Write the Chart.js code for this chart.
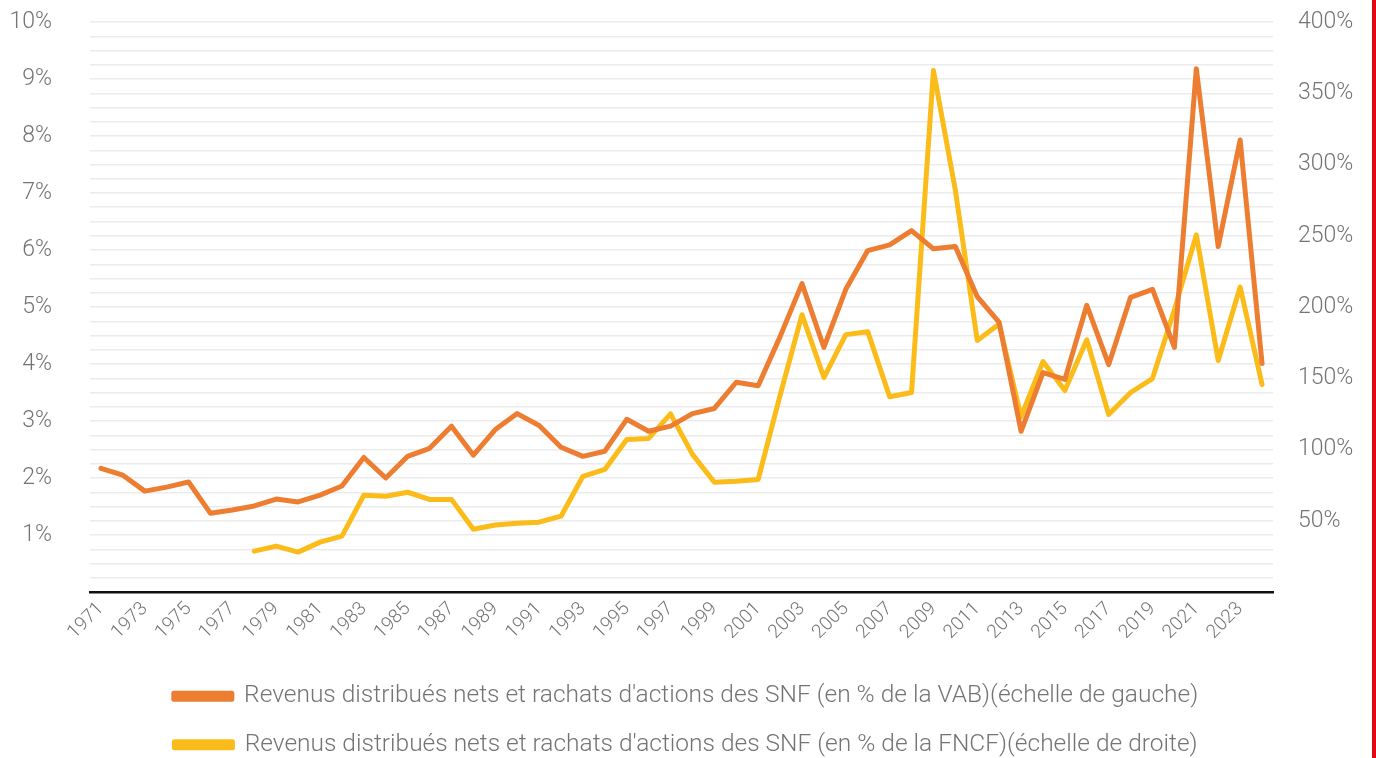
<!DOCTYPE html>
<html>
<head>
<meta charset="utf-8">
<script src="https://cdn.jsdelivr.net/npm/chart.js@4.4.1/dist/chart.umd.min.js"></script>
<style>
  body { margin: 0; background: #fff; }
  #wrap { position: relative; width: 1372px; height: 758px; }
  #redbar { position: absolute; left: 1372px; top: 0; width: 4px; height: 758px; background: #e30613; }
</style>
</head>
<body>
<div id="wrap"><canvas id="chart"></canvas></div>
<div id="redbar"></div>
<script>
// years 1971 -> 2024
const years = [];
for (let y = 1971; y <= 2024; y++) years.push(String(y));

// % of VAB (left scale)
const vabShare = [
  2.17, 2.05, 1.77, 1.84, 1.93, 1.38, 1.44, 1.51, 1.63, 1.58,
  1.70, 1.86, 2.36, 2.00, 2.38, 2.52, 2.91, 2.40, 2.85, 3.13,
  2.92, 2.54, 2.38, 2.47, 3.03, 2.82, 2.91, 3.13, 3.22, 3.68,
  3.62, 4.48, 5.41, 4.29, 5.31, 5.99, 6.09, 6.34, 6.02, 6.06,
  5.18, 4.73, 2.82, 3.85, 3.73, 5.03, 3.99, 5.17, 5.31, 4.29,
  9.18, 6.06, 7.93, 4.01
];

// % of FNCF (right scale), starts in 1978
const fncfShare = [
  null, null, null, null, null, null, null, 28.7, 32.2, 28.0,
  35.0, 39.2, 67.9, 67.2, 70.0, 65.0, 65.0, 44.0, 47.0, 48.3,
  49.0, 53.2, 81.2, 86.0, 107.0, 107.8, 125.0, 96.6, 77.0, 77.7,
  79.0, 138.0, 194.6, 150.5, 180.6, 182.7, 137.0, 140.0, 366.0, 282.0,
  176.5, 188.0, 123.0, 161.7, 141.4, 177.0, 124.6, 140.0, 149.8, 198.0,
  250.6, 162.4, 214.0, 145.6
];

const leftTicks = [1, 2, 3, 4, 5, 6, 7, 8, 9, 10];
const rightTicks = [50, 100, 150, 200, 250, 300, 350, 400];

const seriesLabels = [
  "Revenus distribués nets et rachats d'actions des SNF (en % de la VAB)(échelle de gauche)",
  "Revenus distribués nets et rachats d'actions des SNF (en % de la FNCF)(échelle de droite)"
];

const fontFamily = "Roboto, 'DejaVu Sans', sans-serif";
const textColor = '#747474';

// fixed axis sizes so the plot lands where the original sits
function fixSize(w, h) {
  return (scale) => {
    if (w) scale.width = w;
    if (h) scale.height = h;
    scale.paddingTop = 0;
    scale.paddingBottom = 0;
  };
}

const ctx = document.getElementById('chart').getContext('2d');

const chart = new Chart(ctx, {
  type: 'line',
  data: {
    labels: years,
    datasets: [
      {
        label: seriesLabels[0],
        data: vabShare,
        yAxisID: 'y',
        borderColor: '#ec7d31',
        backgroundColor: '#ec7d31',
        borderWidth: 5,
        pointRadius: 0,
        tension: 0,
        borderJoinStyle: 'round',
        borderCapStyle: 'round'
      },
      {
        label: seriesLabels[1],
        data: fncfShare,
        yAxisID: 'y1',
        borderColor: '#fbbc1a',
        backgroundColor: '#fbbc1a',
        borderWidth: 5,
        pointRadius: 0,
        tension: 0,
        borderJoinStyle: 'round',
        borderCapStyle: 'round'
      }
    ]
  },
  options: {
    responsive: true,
    maintainAspectRatio: false,
    animation: false,
    layout: {
      padding: { top: 22, left: 0, right: 0, bottom: -9 }
    },
    plugins: {
      tooltip: { enabled: false },
      legend: {
        position: 'bottom',
        labels: {
          boxWidth: 58,
          boxHeight: 6,
          padding: 24,
          color: textColor,
          font: { family: fontFamily, size: 24.5, weight: '300' }
        }
      }
    },
    scales: {
      x: {
        offset: true,
        grid: { display: false, drawTicks: false },
        border: { display: true, color: '#111', width: 2.5 },
        ticks: {
          autoSkip: false,
          maxRotation: 45,
          minRotation: 45,
          padding: 6,
          color: textColor,
          font: { family: fontFamily, size: 19, weight: '300' },
          callback: function (value, index) {
            return index % 2 === 0 ? this.getLabelForValue(value) : '';
          }
        },
        afterFit: fixSize(0, 68)
      },
      y: {
        position: 'left',
        min: 0,
        max: 10,
        grid: { color: '#ebebeb', lineWidth: 1.5, drawTicks: false },
        border: { display: false },
        ticks: {
          stepSize: 0.25,
          autoSkip: false,
          padding: 38,
          color: textColor,
          font: { family: fontFamily, size: 23, weight: '300' },
          callback: (v) => leftTicks.includes(v) ? v + '%' : ''
        },
        afterFit: fixSize(90, 0)
      },
      y1: {
        position: 'right',
        min: 0,
        max: 400,
        grid: { drawOnChartArea: false, drawTicks: false },
        border: { display: false },
        ticks: {
          stepSize: 50,
          autoSkip: false,
          padding: 25,
          color: textColor,
          font: { family: fontFamily, size: 23, weight: '300' },
          callback: (v) => rightTicks.includes(v) ? v + '%' : ''
        },
        afterFit: fixSize(99, 0)
      }
    }
  }
});
</script>
</body>
</html>
